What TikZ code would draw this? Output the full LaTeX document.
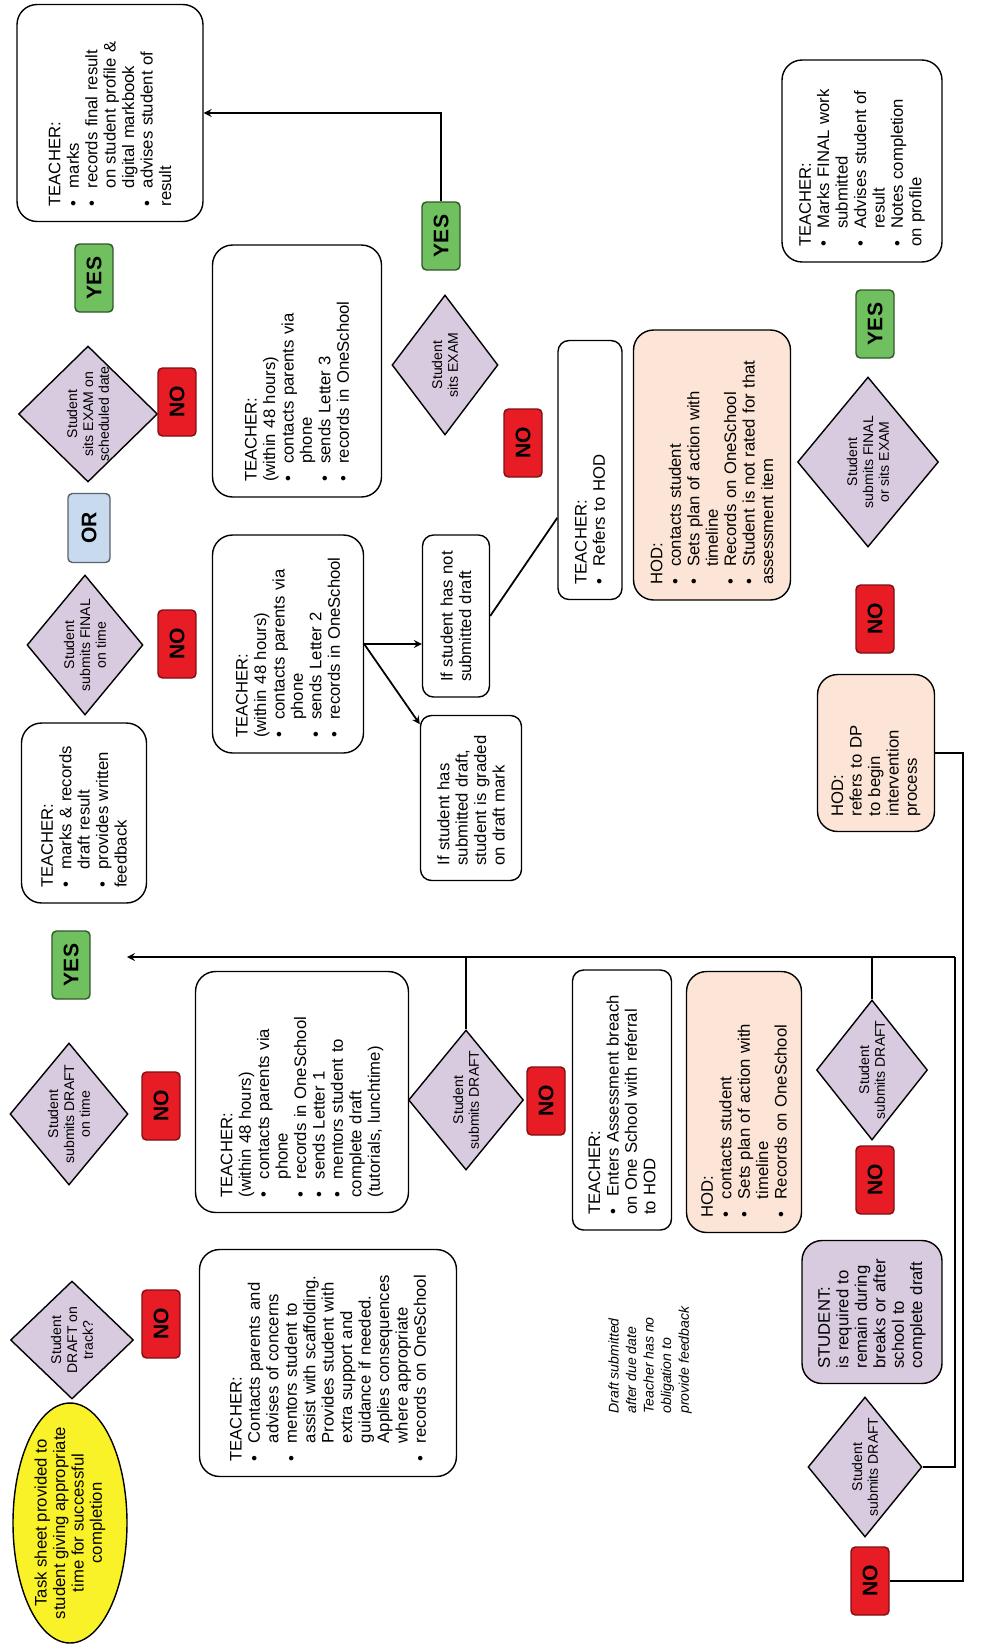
\documentclass[tikz,border=0pt]{standalone}
\usepackage{fontspec}
\setmainfont{Liberation Sans}
\usetikzlibrary{shapes.geometric}
\setlength{\parindent}{0pt}

\definecolor{lilac}{RGB}{216,203,224}
\definecolor{peach}{RGB}{252,229,214}
\definecolor{nored}{RGB}{232,28,36}
\definecolor{yesgreen}{RGB}{112,192,96}
\definecolor{orblue}{RGB}{200,218,238}
\definecolor{taskyellow}{RGB}{250,242,40}

% bullet item with hanging indent
\newcommand\itm{\par\hangindent=1.1em\hangafter=1\noindent\makebox[1.1em][l]{\textbullet}}

\tikzset{
  flow/.style={rotate=90, draw, line width=0.8pt},
  tbox/.style={flow, rounded corners=0.4cm, fill=white, align=left, inner xsep=0.3cm, inner ysep=0.12cm, font=\fontsize{9.5}{10.5}\selectfont},
  smallbox/.style={tbox, rounded corners=0.22cm},
  hodbox/.style={tbox, fill=peach},
  dec/.style={flow, diamond, aspect=1.2, fill=lilac, inner xsep=-6pt, inner ysep=-4pt, align=center, font=\fontsize{8}{9}\selectfont},
  nolab/.style={flow, fill=nored, draw=nored!55!black, rounded corners=2.5pt, minimum width=1.36cm, minimum height=0.76cm, inner sep=0pt, font=\fontsize{12}{12}\selectfont\bfseries},
  yeslab/.style={nolab, fill=yesgreen, draw=yesgreen!45!black},
  orlab/.style={nolab, fill=orblue, draw=orblue!45!black, minimum width=1.38cm, minimum height=0.84cm},
  link/.style={line width=1pt},
}

\begin{document}
\begin{tikzpicture}[x=0.02cm, y=-0.02cm, >=stealth]
	\useasboundingbox (0,0) rectangle (995,1644);

	%%%%% DRAFT STAGE %%%%%
	\node[flow, ellipse, fill=taskyellow, minimum width=4.8cm, minimum height=2.28cm, inner xsep=-8pt, inner ysep=0pt, align=center, font=\fontsize{9.5}{10.5}\selectfont] (task) at (70,1523) {Task sheet provided to\\student giving appropriate\\time for successful\\completion};
	\node[dec, minimum width=2.36cm, minimum height=2.46cm] (dtrack) at (72,1340) {Student\\DRAFT on\\track?};
	\node[nolab] (no1) at (161,1324) {NO};
	\node[tbox, text width=3.94cm, minimum height=5.14cm] (tb1) at (328,1363) {TEACHER:\itm Contacts parents and\newline advises of concerns\itm mentors student to\newline assist with scaffolding.\newline Provides student with\newline extra support and\newline guidance if needed.\newline Applies consequences\newline where appropriate\itm records on OneSchool};

	\node[dec, minimum width=2.84cm, minimum height=2.36cm] (dontime) at (69,1114) {Student\\submits DRAFT\\on time};
	\node[nolab] (no2) at (161,1106) {NO};
	\node[yeslab] (yes1) at (71,965) {YES};
	\node[tbox, text width=4.22cm, minimum height=4.26cm] (tb2) at (302,1092) {TEACHER:\par(within 48 hours)\itm contacts parents via\newline phone\itm records in OneSchool\itm sends Letter 1\itm mentors student to\newline complete draft\newline (tutorials, lunchtime)};

	%%%%% FINAL / EXAM STAGE %%%%%
	\node[tbox, text width=3.0cm, minimum height=2.5cm] (tb3) at (84,813) {TEACHER:\itm marks \& records\newline draft result\itm provides written\newline feedback};
	\node[dec, minimum width=2.8cm, minimum height=2.32cm] (dfinal) at (85,645) {Student\\submits FINAL\\on time};
	\node[nolab] (no3) at (177,644) {NO};
	\node[orlab] (orsep) at (89,528) {OR};
	\node[dec, minimum width=2.72cm, minimum height=2.78cm] (dexam) at (88,414) {Student\\sits EXAM on\\scheduled date};
	\node[nolab] (no4) at (177,402) {NO};
	\node[yeslab] (yes2) at (94,278) {YES};
	\node[tbox, text width=3.74cm, minimum height=3.72cm] (tb4) at (110,113) {TEACHER:\itm marks\itm records final result\newline on student profile \&\newline digital markbook\itm advises student of\newline result};

	\node[tbox, text width=4.44cm, minimum height=3.38cm] (tb5) at (297,371) {TEACHER:\par(within 48 hours)\itm contacts parents via\newline phone\itm sends Letter 3\itm records in OneSchool};
	\node[dec, minimum width=2.8cm, minimum height=2.12cm] (dsits) at (445,365) {Student\\sits EXAM};
	\node[yeslab] (yes3) at (441,236) {YES};
	\node[tbox, text width=3.76cm, minimum height=3.02cm] (tb6) at (288,644) {TEACHER:\par(within 48 hours)\itm contacts parents via\newline phone\itm sends Letter 2\itm records in OneSchool};
	\node[smallbox, text width=2.64cm, minimum height=1.34cm] (notsub) at (456,616) {If student has not\\submitted draft};
	\node[smallbox, text width=2.7cm, minimum height=2.02cm] (sub) at (471,798) {If student has\\submitted draft,\\student is graded\\on draft mark};

	%%%%% HOD %%%%%
	\node[nolab] (no5) at (523,443) {NO};
	\node[smallbox, text width=4.58cm, minimum height=1.28cm] (tb7) at (590,470) {TEACHER:\itm Refers to HOD};
	\node[hodbox, text width=4.8cm, minimum height=3.14cm] (hod1) at (712,465) {HOD:\itm contacts student\itm Sets plan of action with\newline timeline\itm Records on OneSchool\itm Student is not rated for that\newline assessment item};
	\node[dec, minimum width=3.4cm, minimum height=2.82cm] (dfin2) at (868,462) {Student\\submits FINAL\\or sits EXAM};
	\node[yeslab] (yes4) at (875,324) {YES};
	\node[tbox, text width=3.44cm, minimum height=3.2cm] (tb8) at (862,161) {TEACHER:\itm Marks FINAL work\newline submitted\itm Advises student of\newline result\itm Notes completion\newline on profile};
	\node[nolab] (no6) at (875,619) {NO};
	\node[hodbox, text width=2.54cm, minimum height=2.34cm] (hod2) at (876,753) {HOD:\\refers to DP\\to begin\\intervention\\process};

	%%%%% LATE DRAFT %%%%%
	\node[dec, minimum width=2.8cm, minimum height=2.3cm] (dmid) at (466,1100) {Student\\submits DRAFT};
	\node[nolab] (no7) at (546,1101) {NO};
	\node[smallbox, text width=4.6cm, minimum height=1.98cm] (tb9) at (622,1100) {TEACHER:\itm Enters Assessment breach\newline on One School with referral\newline to HOD};
	\node[hodbox, text width=4.62cm, minimum height=2.3cm] (hod3) at (744,1102) {HOD:\itm contacts student\itm Sets plan of action with\newline timeline\itm Records on OneSchool};
	\node[dec, minimum width=2.8cm, minimum height=2.22cm] (dright) at (872,1070) {Student\\submits DRAFT};
	\node[nolab] (no8) at (875,1180) {NO};
	\node[tbox, fill=lilac, text width=2.26cm, minimum height=2.8cm] (stud) at (872,1312) {STUDENT:\\is required to\\remain during\\breaks or after\\school to\\complete draft};
	\node[dec, minimum width=2.8cm, minimum height=2.28cm] (dbot) at (865,1467) {Student\\submits DRAFT};
	\node[nolab] (no9) at (870,1581) {NO};
	\node[rotate=90, align=left, font=\fontsize{8}{10}\selectfont\itshape] (late) at (650,1360) {Draft submitted\\after due date\\Teacher has no\\obligation to\\provide feedback};

	%%%%% CONNECTORS %%%%%
	\coordinate (bus) at (955,957);
	\coordinate (yestip) at (127,957);
	\coordinate (edge) at (963,753);
	\draw[link,->] (bus) -- (yestip);
	\draw[link] (dmid.east) -- (dmid.east |- bus);
	\draw[link] (dright.east) -- (dright.east |- bus);
	\draw[link] (dbot.south) -| (bus);
	\draw[link] (no9.south) -| (edge) -- (hod2.south);
	\draw[link,->] (yes3.east) |- (tb4.south);
	\draw[link,->] (tb6.south) -- (tb6.south -| notsub.north);
	\draw[link,->] (tb6.south) -- (sub);
	\draw[link] (notsub.south) -- (tb7);
\end{tikzpicture}
\end{document}
